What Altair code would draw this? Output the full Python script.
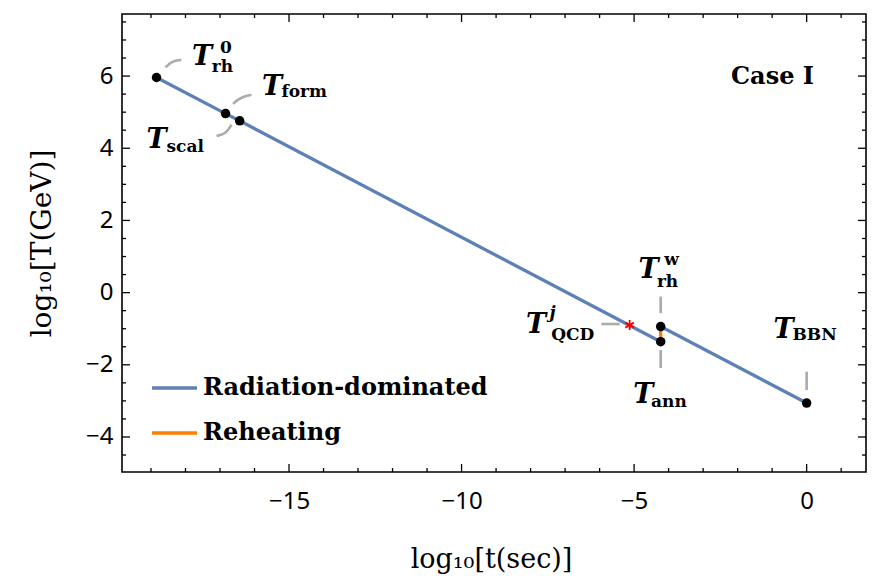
import altair as alt
import pandas as pd

# ---------------- data ----------------
event_names = ["rh0", "scal", "form", "ann", "rhw", "BBN"]
event_log_t = [-18.84, -16.84, -16.43, -4.23, -4.23, 0.0]
event_log_T = [5.96, 4.96, 4.76, -1.36, -0.94, -3.06]

qcd_log_t = [-5.13]
qcd_log_T = [-0.90]

series_names = ["Radiation-dominated", "Reheating"]
series_colors = ["#5E81B5", "#FF8000"]

x_major = [-15, -10, -5, 0]
x_minor = [v for v in range(-19, 2) if v not in x_major]
y_major = [-4, -2, 0, 2, 4, 6]
y_minor = [v / 2 for v in range(-9, 16) if v % 4 != 0]

# annotation connectors (data coords)
conn_id = ["rh0", "rh0", "rh0", "form", "form", "form", "scal", "scal", "scal",
           "rhw", "rhw", "ann", "ann", "qcd", "qcd", "bbn", "bbn"]
conn_x = [-18.58, -18.39, -18.12, -16.62, -16.41, -16.09, -17.10, -16.83, -16.67,
          -4.23, -4.23, -4.23, -4.23, -5.95, -5.42, 0.0, 0.0]
conn_y = [6.24, 6.42, 6.45, 5.23, 5.41, 5.48, 4.34, 4.40, 4.65,
          -0.11, -0.57, -1.59, -2.09, -0.87, -0.87, -2.19, -2.70]

# labels
T_x = [-17.52, -15.49, -18.84, -4.58, -7.84, -4.73, -0.67]
T_y = [6.31, 5.48, 4.00, 0.40, -1.12, -3.06, -1.26]
sub_text = ["rh", "0", "form", "scal", "rh", "w", "QCD", "ann", "BBN"]
sub_x = [-17.24, -17.00, -15.22, -18.55, -4.34, -4.13, -7.40, -4.51, -0.41]
sub_y = [6.10, 6.63, 5.41, 3.91, 0.15, 0.77, -1.31, -3.16, -1.31]
sup_j_x = [-7.45]
sup_j_y = [-0.70]
case_text = ["Case I"]
case_x = [-0.99]
case_y = [5.78]

# ---------------- chart ----------------
W, H = 744, 458
xscale = alt.Scale(domain=[-19.84, 1.72], nice=False, zero=False)
yscale = alt.Scale(domain=[-4.97, 7.72], nice=False, zero=False)

xaxis = alt.Axis(values=x_major, format="d", labelPadding=17,
                 title="log₁₀[t(sec)]", titleFont="DejaVu Serif", titleFontSize=27,
                 titleFontWeight="normal", titleColor="black",
                 titleX=369, titleY=95, titleAlign="center", titleBaseline="alphabetic")
yaxis = alt.Axis(values=y_major, format="d", labelPadding=9,
                 title="log₁₀[T(GeV)]", titleFont="DejaVu Serif", titleFontSize=28,
                 titleFontWeight="normal", titleColor="black", titleAngle=270,
                 titleX=-80, titleY=229, titleAlign="center", titleBaseline="middle")


def X(f):
    return alt.X(f, type="quantitative", scale=xscale, axis=xaxis)


def Y(f):
    return alt.Y(f, type="quantitative", scale=yscale, axis=yaxis)


# line data
rows = []
k = 0
for i in [0, 1, 2, 3]:
    rows.append(dict(t=event_log_t[i], T=event_log_T[i], series=series_names[0], seg="a", o=k)); k += 1
for i in [3, 4]:
    rows.append(dict(t=event_log_t[i], T=event_log_T[i], series=series_names[1], seg="b", o=k)); k += 1
for i in [4, 5]:
    rows.append(dict(t=event_log_t[i], T=event_log_T[i], series=series_names[0], seg="c", o=k)); k += 1
lines_df = pd.DataFrame(rows)

lines = alt.Chart(lines_df).mark_line(strokeWidth=3.3).encode(
    x=X("t"), y=Y("T"),
    color=alt.Color("series:N",
                    scale=alt.Scale(domain=series_names, range=series_colors),
                    legend=alt.Legend(title=None, orient="none", legendX=28, legendY=349.5,
                                      symbolType="stroke", symbolSize=2025,
                                      symbolStrokeWidth=3.3, labelFont="DejaVu Serif",
                                      labelFontWeight="bold", labelFontSize=24,
                                      labelOffset=4, padding=0, rowPadding=8,
                                      labelColor="black", labelLimit=500)),
    detail="seg:N", order="o:Q")

conn_df = pd.DataFrame({"id": conn_id, "x": conn_x, "y": conn_y, "o": range(len(conn_id))})
connectors = alt.Chart(conn_df).mark_line(strokeWidth=2.6, color="#ABABAB",
                                          interpolate="basis").encode(
    x=X("x"), y=Y("y"), detail="id:N", order="o:Q")

ev_df = pd.DataFrame({"name": event_names, "t": event_log_t, "T": event_log_T})
points = alt.Chart(ev_df).mark_point(filled=True, size=90, color="black", opacity=1).encode(
    x=X("t"), y=Y("T"))

qcd_df = pd.DataFrame({"t": qcd_log_t, "T": qcd_log_T})
star = alt.Chart(qcd_df).mark_point(
    shape="M0,-1L0,1M-0.866,-0.5L0.866,0.5M-0.866,0.5L0.866,-0.5",
    size=100, filled=False, color="#FF0000", strokeWidth=1.8, opacity=1).encode(
    x=X("t"), y=Y("T"))

T_df = pd.DataFrame({"x": T_x, "y": T_y, "txt": ["T"] * len(T_x)})
T_text = alt.Chart(T_df).mark_text(font="DejaVu Serif", fontWeight="bold", fontStyle="italic",
                                   fontSize=27, align="center", baseline="alphabetic",
                                   color="black").encode(x=X("x"), y=Y("y"), text="txt:N")

sub_df = pd.DataFrame({"x": sub_x, "y": sub_y, "txt": sub_text})
sub_txt = alt.Chart(sub_df).mark_text(font="DejaVu Serif", fontWeight="bold", fontSize=17,
                                      align="left", baseline="alphabetic",
                                      color="black").encode(x=X("x"), y=Y("y"), text="txt:N")

j_df = pd.DataFrame({"x": sup_j_x, "y": sup_j_y, "txt": ["j"]})
j_txt = alt.Chart(j_df).mark_text(font="DejaVu Serif", fontWeight="bold", fontStyle="italic",
                                  fontSize=17, align="left", baseline="alphabetic",
                                  color="black").encode(x=X("x"), y=Y("y"), text="txt:N")

case_df = pd.DataFrame({"x": case_x, "y": case_y, "txt": case_text})
case_txt = alt.Chart(case_df).mark_text(font="DejaVu Serif", fontWeight="bold", fontSize=24,
                                        align="center", baseline="alphabetic",
                                        color="black").encode(x=X("x"), y=Y("y"), text="txt:N")


def xticks(vals, length):
    base = alt.Chart(pd.DataFrame({"v": vals})).mark_rule(color="black", strokeWidth=1.3)
    return [base.encode(x=X("v"), y=alt.value(H), y2=alt.value(H - length)),
            base.encode(x=X("v"), y=alt.value(0), y2=alt.value(length))]


def yticks(vals, length):
    base = alt.Chart(pd.DataFrame({"v": vals})).mark_rule(color="black", strokeWidth=1.3)
    return [base.encode(y=Y("v"), x=alt.value(0), x2=alt.value(length)),
            base.encode(y=Y("v"), x=alt.value(W), x2=alt.value(W - length))]


tick_layers = xticks(x_major, 8) + xticks(x_minor, 4) + yticks(y_major, 8) + yticks(y_minor, 4)

chart = alt.layer(
    lines, connectors, points, star, T_text, sub_txt, j_txt, case_txt, *tick_layers
).properties(
    width=W, height=H,
    padding={"left": 122, "top": 14, "right": 12, "bottom": 104},
    autosize=alt.AutoSizeParams(type="none"),
    background="white",
).configure_view(
    stroke="black", strokeWidth=1.6
).configure_axis(
    grid=False, domain=False, ticks=False,
    labelFont="Noto Sans", labelFontSize=24, labelColor="black"
)

chart.save("out.html", embed_options={"renderer": "svg", "actions": False})
